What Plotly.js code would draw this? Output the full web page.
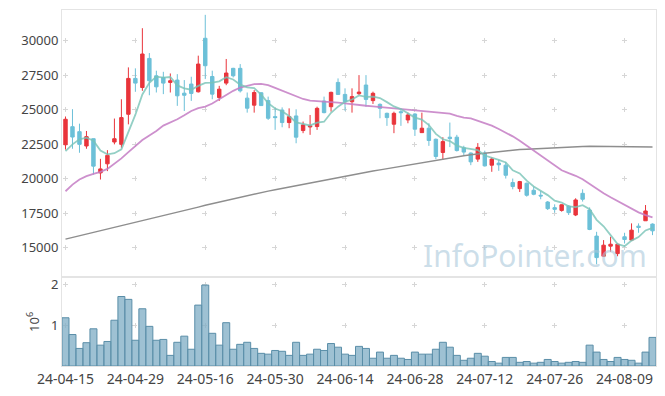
<!DOCTYPE html>
<html>
<head>
<meta charset="utf-8">
<script src="https://cdn.plot.ly/plotly-3.0.1.min.js"></script>
<style>html,body{margin:0;padding:0;background:#fff;}#chart{width:665px;height:396px;}</style>
</head>
<body>
<div id="chart"></div>
<script>
var dates = ["24-04-15","24-04-16","24-04-17","24-04-18","24-04-19","24-04-22","24-04-23","24-04-24","24-04-25","24-04-26",
"24-04-29","24-04-30","24-05-02","24-05-03","24-05-07","24-05-08","24-05-09","24-05-10","24-05-13","24-05-14",
"24-05-16","24-05-17","24-05-20","24-05-21","24-05-22","24-05-23","24-05-24","24-05-27","24-05-28","24-05-29",
"24-05-30","24-05-31","24-06-03","24-06-04","24-06-05","24-06-07","24-06-10","24-06-11","24-06-12","24-06-13",
"24-06-14","24-06-17","24-06-18","24-06-19","24-06-20","24-06-21","24-06-24","24-06-25","24-06-26","24-06-27",
"24-06-28","24-07-01","24-07-02","24-07-03","24-07-04","24-07-05","24-07-08","24-07-09","24-07-10","24-07-11",
"24-07-12","24-07-15","24-07-16","24-07-17","24-07-18","24-07-19","24-07-22","24-07-23","24-07-24","24-07-25",
"24-07-26","24-07-29","24-07-30","24-07-31","24-08-01","24-08-02","24-08-05","24-08-06","24-08-07","24-08-08",
"24-08-09","24-08-12","24-08-13","24-08-14","24-08-16"];

var openP = [22450,23760,23400,22360,22890,20410,21070,22650,22480,24660,
27260,26600,28710,27450,27330,26970,27140,26190,26850,26290,
30170,27400,25870,26920,27990,27990,25830,25320,26220,25650,
24490,24970,24060,24540,23480,23740,23770,25620,25210,26970,
26100,25570,26150,26780,25650,25380,24730,23940,24850,24250,
24680,23330,23650,22850,21890,23000,23000,22230,21850,21410,
21850,20970,21120,20970,19710,19270,19660,19150,18790,18300,
17890,17690,18010,17360,18930,17720,15830,14370,15100,14560,
15780,15540,16550,16940,16700];

var highP = [24500,25030,23980,23450,22900,21430,22060,24350,25750,28060,
27990,30900,29100,27820,27740,27620,27570,27140,27380,28910,
31870,27820,26720,28670,28030,28300,26240,26410,26260,25940,
25090,25160,25090,25020,24130,24610,25210,25940,26300,27260,
26540,26540,27500,27500,26300,25450,24780,24850,24970,24780,
24730,24780,24010,22900,23000,24060,23170,22380,21890,22570,
22020,21530,21360,21210,20000,19830,19710,19420,19100,18370,
18130,18130,18060,18570,19220,17910,16140,15540,15780,15290,
16070,16750,16750,18080,16750];

var lowP = [22100,22160,21870,22160,20290,19930,20540,22480,22230,23930,
26290,26360,26040,26240,26120,26240,25270,24900,25630,26240,
27210,25750,25630,26770,27330,26240,24780,24780,25270,24250,
23530,23720,23650,22560,23290,23170,23530,24730,24850,26060,
24920,24780,26060,25210,25410,24370,23820,23290,23820,24010,
23090,23330,22370,21410,21360,22280,21960,21700,20970,21210,
20870,20490,20560,20000,19220,19030,18690,18790,18500,17720,
17530,17600,17360,17280,18330,16260,13790,14320,14690,14370,
15290,15490,16070,16940,15900];

var closeP = [24300,23010,22480,23040,20900,20700,21680,22890,24420,27260,
26920,29030,27090,26650,26920,27090,26000,26040,26170,28300,
28180,26120,26480,27650,27450,26360,25100,26240,25290,24370,
24420,24060,24490,23000,23890,23820,25090,24780,26250,26100,
25570,25940,26270,25740,26180,25090,24420,24730,24780,24610,
23580,23650,22760,21600,22680,22900,22030,21920,21210,22260,
20920,21410,21000,20240,19420,19780,18790,18860,18740,17820,
17770,18100,17530,18450,18500,16310,14270,15170,15240,15240,
15580,16260,16460,17650,16210];

var ma5 = [21990,22480,22840,22960,22750,22030,21760,21840,22120,23390,
24630,26100,26940,27390,27320,27360,26750,26540,26440,26720,
26940,26960,27050,27350,27180,26810,26610,26560,26090,25470,
25080,24880,24530,24070,23970,23850,24060,24120,24770,25210,
25560,25730,26030,25920,25940,25840,25540,25230,25040,24730,
24420,24270,23880,23240,22850,22720,22390,22230,22150,22060,
21670,21540,21360,21170,20600,20370,19850,19420,19120,18800,
18400,18260,17990,17930,18070,17780,17010,16540,15900,15250,
15100,15500,15760,16240,16430];

var ma20 = [19080,19560,19930,20170,20340,20490,20700,21090,21460,21920,
22350,22790,23130,23450,23840,24050,24300,24590,24900,25100,
25220,25440,25750,26040,26360,26600,26720,26850,26870,26780,
26580,26370,26130,25940,25770,25650,25620,25600,25550,25500,
25450,25380,25320,25280,25240,25190,25140,25090,25040,24970,
24920,24880,24850,24800,24750,24710,24540,24420,24370,24200,
24030,23840,23590,23350,23060,22740,22380,22010,21650,21290,
20920,20600,20390,20200,19950,19610,19220,18930,18640,18370,
18080,17840,17550,17350,17180];

var ma120 = [15610,15730,15850,15980,16100,16220,16340,16460,16580,16710,
16830,16950,17070,17190,17320,17440,17560,17690,17810,17930,
18060,18180,18300,18410,18530,18650,18760,18880,18990,19090,
19190,19290,19380,19480,19580,19680,19780,19880,19980,20080,
20170,20270,20360,20450,20540,20630,20720,20810,20890,20980,
21070,21160,21240,21330,21420,21500,21590,21660,21730,21790,
21850,21910,21970,22030,22070,22100,22130,22160,22180,22190,
22200,22230,22260,22290,22320,22340,22340,22330,22320,22310,
22300,22300,22290,22290,22290];

// volume in millions of shares
var volume = [1.18,0.77,0.43,0.57,0.91,0.51,0.60,1.12,1.70,1.63,
0.63,1.40,0.97,0.63,0.65,0.26,0.58,0.73,0.41,1.49,
1.98,0.80,0.51,1.06,0.41,0.53,0.58,0.43,0.31,0.29,
0.38,0.36,0.26,0.58,0.26,0.29,0.41,0.38,0.55,0.46,
0.29,0.26,0.48,0.43,0.19,0.34,0.19,0.26,0.19,0.16,
0.34,0.29,0.29,0.41,0.58,0.46,0.26,0.14,0.19,0.31,
0.24,0.11,0.07,0.21,0.21,0.09,0.11,0.07,0.09,0.16,
0.11,0.07,0.09,0.11,0.09,0.51,0.34,0.16,0.11,0.21,
0.16,0.14,0.07,0.34,0.70];

var upColor = '#e9343b', downColor = '#6cc0d8';
var gridC = '#d6d6d6', boxC = '#e4e4e4';

var traces = [
  {type:'candlestick', x:dates, open:openP, high:highP, low:lowP, close:closeP,
   xaxis:'x', yaxis:'y', whiskerwidth:0,
   increasing:{line:{color:upColor,width:1}, fillcolor:upColor},
   decreasing:{line:{color:downColor,width:1}, fillcolor:downColor},
   hoverinfo:'skip', showlegend:false},
  {type:'scatter', mode:'lines', x:dates, y:ma120, xaxis:'x', yaxis:'y',
   line:{color:'#8e8e8e', width:1.5}, hoverinfo:'skip'},
  {type:'scatter', mode:'lines', x:dates, y:ma20, xaxis:'x', yaxis:'y',
   line:{color:'rgba(196,124,196,0.85)', width:1.8}, hoverinfo:'skip'},
  {type:'scatter', mode:'lines', x:dates, y:ma5, xaxis:'x', yaxis:'y',
   line:{color:'rgba(120,195,182,0.8)', width:1.8}, hoverinfo:'skip'},
  {type:'bar', x:dates, y:volume, xaxis:'x2', yaxis:'y2',
   marker:{color:'rgba(125,172,196,0.75)', line:{color:'#5a8ea8', width:1}},
   hoverinfo:'skip'}
];

var tickFont = {family:'Noto Sans, DejaVu Sans, sans-serif', size:13, color:'#444'};

var layout = {
  width:665, height:396,
  margin:{l:62, r:9, t:10, b:30},
  paper_bgcolor:'#ffffff', plot_bgcolor:'#ffffff',
  showlegend:false, bargap:0,
  font:tickFont,
  xaxis:{type:'category', anchor:'y', range:[-0.5,84.5], tick0:0, dtick:10,
    showticklabels:false, ticks:'', rangeslider:{visible:false},
    showgrid:true, gridcolor:gridC, gridwidth:1, griddash:'0px,28.12px,5px,1.365px',
    showline:true, mirror:true, linecolor:boxC, linewidth:1, zeroline:false},
  yaxis:{domain:[0.252,1], range:[12915,32220], tick0:0, dtick:2500, tickformat:'d',
    ticks:'', tickfont:tickFont,
    showgrid:true, gridcolor:gridC, gridwidth:1, griddash:'0px,0.5px,5px,64.382px',
    showline:true, mirror:true, linecolor:boxC, linewidth:1, zeroline:false},
  xaxis2:{type:'category', anchor:'y2', matches:'x', range:[-0.5,84.5], tick0:0, dtick:10,
    ticks:'', tickfont:{family:'Noto Sans, DejaVu Sans, sans-serif', size:14, color:'#444'},
    showgrid:true, gridcolor:gridC, gridwidth:1, griddash:'0px,4.04px,5px,31.835px',
    showline:true, mirror:true, linecolor:boxC, linewidth:1, zeroline:false},
  yaxis2:{domain:[0,0.248], range:[0,2.16], tickvals:[1,2], ticktext:['1','2'],
    ticks:'', tickfont:tickFont,
    title:{text:'10<sup>6</sup>', font:tickFont, standoff:8},
    showgrid:true, gridcolor:gridC, gridwidth:1, griddash:'0px,0.5px,5px,64.382px',
    showline:true, mirror:true, linecolor:boxC, linewidth:1, zeroline:false},
  annotations:[{text:'InfoPointer.com', xref:'paper', yref:'paper', x:0.988, y:0.31,
    xanchor:'right', yanchor:'middle', showarrow:false,
    font:{family:'Noto Sans, sans-serif', size:30, color:'rgba(170,200,218,0.6)'}}]
};

Plotly.newPlot('chart', traces, layout, {displayModeBar:false, staticPlot:true});
</script>
</body>
</html>
